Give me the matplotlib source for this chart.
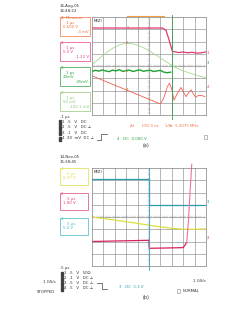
import matplotlib.pyplot as plt
from matplotlib.patches import Rectangle

W, H = 250, 309

# ---- panel (a) traces, in screen divisions (x 0..10, y 0..8) ----
a_ch1_x = [0, 6.2, 6.5, 6.8, 7.05, 7.3, 7.6, 8.0, 8.4, 8.8, 9.2, 9.6, 10]
a_ch1_y = [7.1, 7.1, 6.9, 6.0, 5.2, 5.15, 5.1, 5.14, 5.08, 5.12, 5.05, 5.08, 5.15]

a_sine_x = [0, 0.5, 1, 1.5, 2, 2.5, 3, 3.5, 4, 4.5, 5, 5.5, 6, 6.5, 7,
            7.5, 8, 8.5, 9, 9.5, 10]
a_sine_y = [4.1, 4.5, 4.9, 5.25, 5.55, 5.75, 5.85, 5.82, 5.7, 5.5, 5.25,
            4.95, 4.65, 4.35, 4.05, 3.8, 3.6, 3.45, 3.3, 3.15, 3.05]

a_ch3_x = [0, 0.3, 0.6, 0.9, 1.2, 1.5, 1.8, 2.1, 2.4, 2.7, 3.0, 3.3, 3.6, 3.9,
           4.2, 4.5, 4.8, 5.1, 5.4, 5.7, 6.0, 6.3, 6.6, 6.9]
a_ch3_y = [3.55, 3.65, 3.58, 3.68, 3.6, 3.54, 3.66, 3.6, 3.7, 3.56, 3.62, 3.66,
           3.55, 3.63, 3.68, 3.57, 3.62, 3.66, 3.55, 3.6, 3.64, 3.5, 3.45, 3.5]

a_ch4_x = [0, 6.0, 6.3, 6.6, 6.8, 7.0, 7.2, 7.45, 7.8, 8.0, 8.25, 8.5, 8.7,
           8.9, 9.1, 9.35, 9.6, 9.9]
a_ch4_y = [3.2, 0.9, 1.4, 2.3, 2.6, 2.1, 1.2, 1.7, 2.25, 1.9, 1.5, 1.85, 2.05,
           1.7, 1.45, 1.6, 1.6, 1.5]

# ---- panel (b) traces ----
b_ch3_x = [0, 5.0, 5.0, 10]
b_ch3_y = [7.1, 7.1, 5.0, 5.0]
b_ch4_x = [0, 2, 4, 5, 6, 7, 8, 9, 10]
b_ch4_y = [4.0, 3.75, 3.48, 3.33, 3.2, 3.08, 3.0, 3.0, 3.02]
b_ch2_x = [0, 2.5, 5.0, 5.02, 5.3, 6.5, 8.0, 8.3]
b_ch2_y = [2.0, 2.05, 2.1, 1.45, 1.45, 1.47, 1.5, 1.9]
b_rise_x = [8.3, 8.45, 8.6, 8.75]
b_rise_y = [1.9, 3.5, 6.0, 8.3]

# ---- readout text ----
a_time = ["16-Aug-05", "16:48:22"]
b_time = ["14-Nov-05", "15:38:45"]
a_boxes = [("A: Measure", "1 \u03bcs", "0.500 V", "-3 mV", "#f07040"),
           ("2", "1 \u03bcs", "5.0 V", "-1.22 V", "#e0408a"),
           ("3", "1 \u03bcs", "20mV", "-35mV", "#30a040"),
           ("Z", "1 \u03bcs", "50 mV", "-100.1 mV", "#90c878")]
b_boxes = [("4", ".5 \u03bcs", "0.27 V", "#dede40"),
           ("2", ".5 \u03bcs", "1.00 V", "#e0407a"),
           ("3", ".5 \u03bcs", "5.0 V", "#40b8c8")]
a_rows = ["1  .5   V   DC", "2  .5   V   DC \u22a5", "3  .1   V   DC",
          "4  20  mV  DC \u22a5"]
b_rows = ["1  .5   V   50\u03a9", "2  .1   V   DC \u22a5", "3  .5   V   DC \u22a5",
          "4  .5   V   DC \u22a5"]

FS = 2.8
fig = plt.figure(figsize=(W / 100, H / 100), dpi=100)
fig.patch.set_facecolor("white")


def fx(x):
    return x / W


def fy(y):
    return 1 - y / H


def txt(x, y, s, color="#303030", size=FS, **kw):
    fig.text(fx(x), fy(y), s, color=color, fontsize=size, va="center", **kw)


def grid_axes(x0, y0, x1, y1):
    ax = fig.add_axes([fx(x0), fy(y1), (x1 - x0) / W, (y1 - y0) / H])
    ax.set_xlim(0, 10)
    ax.set_ylim(0, 8)
    for v in range(1, 10):
        ax.axvline(v, color="#8c8c8c", lw=0.45)
    for v in range(1, 8):
        ax.axhline(v, color="#8c8c8c", lw=0.45)
    # center graticule ticks
    for t in range(1, 50):
        ax.plot([t / 5, t / 5], [3.93, 4.07], color="#808080", lw=0.3)
    for t in range(1, 40):
        ax.plot([4.93, 5.07], [t / 5, t / 5], color="#808080", lw=0.3)
    ax.set_xticks([])
    ax.set_yticks([])
    for sp in ax.spines.values():
        sp.set_color("#808080")
        sp.set_linewidth(0.5)
    ax.text(0.1, 7.85, "M(Z)", fontsize=FS, va="top", color="#202020",
            bbox=dict(facecolor="white", edgecolor="none", pad=0.3))
    return ax


def box(x0, y0, x1, y1, color):
    fig.patches.append(Rectangle((fx(x0), fy(y1)), (x1 - x0) / W, (y1 - y0) / H,
                                 transform=fig.transFigure, fill=False,
                                 edgecolor=color, lw=0.5))


# ================= panel (a) =================
axa = grid_axes(92, 17, 206, 115)
axa.plot(a_sine_x, a_sine_y, color="#a8d890", lw=0.6)
axa.plot(a_ch1_x, a_ch1_y, color="#e03a6e", lw=0.9)
axa.plot(a_ch3_x, a_ch3_y, color="#20a030", lw=1.0)
axa.plot(a_ch4_x, a_ch4_y, color="#f06050", lw=0.6)
axa.plot([7.0, 7.0], [-0.3, 8.2], color="#30a050", lw=0.6, clip_on=False)
axa.plot([3.1, 6.3], [8.1, 8.1], color="#f0a040", lw=0.8, clip_on=False)
for lab, yv in zip(["1", "2", "3", "4"], [7.1, 5.85, 3.62, 2.05]):
    axa.text(3.1, yv, lab, color="#e07040", fontsize=FS, ha="center", va="center")
axa.text(10.05, 5.1, "1", color="#e04070", fontsize=FS, va="center", clip_on=False)
axa.text(10.05, 4.25, "3", color="#20a030", fontsize=FS, va="center", clip_on=False)
axa.text(10.05, 2.3, "4", color="#f06050", fontsize=FS, va="center", clip_on=False)

for t, yy in zip(a_time, [6, 11]):
    txt(60, yy, t)
for i, (hd, tb, vd, off, c) in enumerate(a_boxes):
    y0 = 17 + 25 * i
    box(60, y0, 90, y0 + 19, c)
    txt(61, y0 + 1, hd, color=c)
    txt(66, y0 + 6, tb, color=c)
    txt(63, y0 + 10, vd, color=c)
    txt(89, y0 + 15, off, color=c, ha="right")

txt(60, 117, ".1 \u03bcs")
for i, r in enumerate(a_rows):
    txt(62, 122 + 5.5 * i, r)
    fig.patches.append(Rectangle((fx(59), fy(124.5 + 5.5 * i)), 2 / W, 4.5 / H,
                                 transform=fig.transFigure, color="#404040"))
fig.lines.append(plt.Line2D([fx(97), fx(101), fx(101), fx(107)],
                            [fy(140), fy(140), fy(134), fy(134)],
                            transform=fig.transFigure, color="#404040", lw=0.5))
txt(117, 139, "4   DC  0.000 V", color="#30a040")
txt(130, 126, "\u0394t      192.3 ns     1/\u0394t  5.2075 MHz", color="#f07040")
txt(143, 146, "(a)", size=3.5)
box(204, 135, 207, 139, "#a0a0a0")

# ================= panel (b) =================
axb = grid_axes(92, 168, 206, 266)
axb.plot(b_ch4_x, b_ch4_y, color="#dede40", lw=0.9)
axb.plot(b_ch3_x, b_ch3_y, color="#2a9cb0", lw=0.9)
axb.plot(b_ch2_x, b_ch2_y, color="#d8205e", lw=0.9)
axb.plot(b_rise_x, b_rise_y, color="#f070a0", lw=0.8, clip_on=False)
axb.plot([5.0, 5.0], [-0.3, 8.0], color="#40a8c0", lw=0.6, clip_on=False)
axb.text(10.05, 5.2, "3", color="#2a9cb0", fontsize=FS, va="center", clip_on=False)
axb.text(10.05, 2.25, "2", color="#e02068", fontsize=FS, va="center", clip_on=False)

for t, yy in zip(b_time, [157, 162]):
    txt(60, yy, t)
for i, (hd, tb, vd, c) in enumerate(b_boxes):
    y0 = 168 + 25 * i
    box(60, y0, 88, y0 + 17, c)
    txt(61, y0 + 1, hd, color=c)
    txt(66, y0 + 6, tb, color=c)
    txt(63, y0 + 10, vd, color=c)

txt(60, 268, ".5 \u03bcs")
for i, r in enumerate(b_rows):
    txt(64, 273 + 5 * i, r)
    fig.patches.append(Rectangle((fx(60.5), fy(275.5 + 5 * i)), 2 / W, 4 / H,
                                 transform=fig.transFigure, color="#404040"))
txt(43, 282, "1 GS/s")
txt(37, 292, "STOPPED")
fig.lines.append(plt.Line2D([fx(97), fx(102), fx(102), fx(107)],
                            [fy(283), fy(283), fy(289), fy(289)],
                            transform=fig.transFigure, color="#404040", lw=0.5))
txt(119, 287, "3   DC  5.3 V", color="#2a9cb0")
txt(193, 281, "1 GS/s")
box(177, 289, 180, 293, "#a0a0a0")
txt(183, 291, "NORMAL")
txt(143, 298, "(b)", size=3.5)

fig.savefig("out.png", dpi=100)
